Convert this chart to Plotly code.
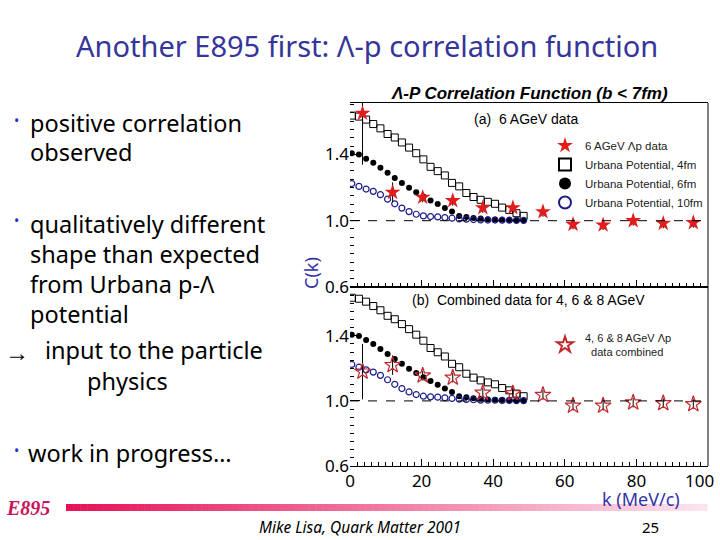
import plotly.graph_objects as go

# ---------------- data ----------------
k_data = [3.5, 11.9, 20.3, 28.7, 37.1, 45.5, 53.9, 62.3, 70.7, 79.1, 87.5, 95.9]
c_6agev = [1.648, 1.171, 1.141, 1.121, 1.078, 1.078, 1.054, 0.978, 0.974, 1.000, 0.984, 0.988]
err_6agev = [0.31, 0.06, 0.03, 0.03, 0.03, 0.03, 0.03, 0.03, 0.03, 0.03, 0.03, 0.03]
c_comb = [1.180, 1.220, 1.156, 1.143, 1.050, 1.047, 1.037, 0.971, 0.971, 0.990, 0.986, 0.980]
err_comb = [0.17, 0.06, 0.03, 0.03, 0.03, 0.03, 0.03, 0.03, 0.03, 0.03, 0.03, 0.03]

k_theory = [0.5, 2.5, 4.5, 6.5, 8.5, 10.5, 12.5, 14.5, 16.5, 18.5, 20.5, 22.5, 24.5,
            26.5, 28.5, 30.5, 32.5, 34.5, 36.5, 38.5, 40.5, 42.5, 44.5, 46.5, 48.5]
c_4fm = [1.634, 1.628, 1.610, 1.583, 1.557, 1.523, 1.502, 1.472, 1.441, 1.407, 1.370, 1.325, 1.299,
         1.273, 1.228, 1.207, 1.167, 1.143, 1.126, 1.114, 1.102, 1.079, 1.065, 1.045, 1.029]
c_6fm = [1.407, 1.399, 1.374, 1.350, 1.319, 1.289, 1.258, 1.228, 1.198, 1.171, 1.146, 1.122, 1.100,
         1.076, 1.055, 1.029, 1.023, 1.017, 1.013, 1.009, 1.007, 1.005, 1.004, 1.003, 1.003]
c_10fm = [1.224, 1.207, 1.191, 1.177, 1.157, 1.130, 1.102, 1.076, 1.055, 1.039, 1.029, 1.025, 1.023,
          1.019, 1.015, 1.011, 1.009, 1.007, 1.005, 1.004, 1.004, 1.003, 1.003, 1.002, 1.002]

x_ticks = [0, 20, 40, 60, 80, 100]
x_tick_labels = ["0", "20", "40", "60", "80", ""]
last_x_label = "100"
y_ticks = [0.6, 1.0, 1.4]
y_tick_labels = ["0.6", "1.0", "1.4"]

# ---------------- styling ----------------
W, H = 720, 540
SLIDE_FONT = "Noto Sans"
PLOT_FONT = "Liberation Sans"
TITLE_BLUE = "#35359a"
STAR_RED = "#e01c1c"
OPEN_STAR = "#c0282d"
DARK_BLUE = "#1c1c8a"


def px(x):
    return x / W


def py(y):
    return 1 - y / H


fig = go.Figure()

panels = [("x", "y"), ("x2", "y2")]
for i, (xa, ya) in enumerate(panels):
    top = i == 0
    fig.add_trace(go.Scatter(
        x=k_theory, y=c_4fm, mode="markers", xaxis=xa, yaxis=ya,
        name="Urbana Potential, 4fm", showlegend=top, legend="legend", legendrank=2,
        marker=dict(symbol="square-open", size=7, color="black", line=dict(width=1))))
    fig.add_trace(go.Scatter(
        x=k_theory, y=c_6fm, mode="markers", xaxis=xa, yaxis=ya,
        name="Urbana Potential, 6fm", showlegend=top, legend="legend", legendrank=3,
        marker=dict(symbol="circle", size=6, color="black")))
    fig.add_trace(go.Scatter(
        x=k_theory, y=c_10fm, mode="markers", xaxis=xa, yaxis=ya,
        name="Urbana Potential, 10fm", showlegend=top, legend="legend", legendrank=4,
        marker=dict(symbol="circle-open", size=6, color=DARK_BLUE, line=dict(width=1.2))))

fig.add_trace(go.Scatter(
    x=k_data, y=c_6agev, mode="markers", xaxis="x", yaxis="y",
    name="6 AGeV Λp data", legend="legend", legendrank=1,
    error_y=dict(type="data", array=err_6agev, color="black", thickness=1, width=0),
    marker=dict(symbol="star", size=12, color=STAR_RED, line=dict(width=0))))
fig.add_trace(go.Scatter(
    x=k_data, y=c_comb, mode="markers", xaxis="x2", yaxis="y2",
    name="4, 6 &amp; 8 AGeV Λp<br>\u00a0\u00a0data combined", legend="legend2",
    error_y=dict(type="data", array=err_comb, color="black", thickness=1, width=0),
    marker=dict(symbol="star-open", size=12, color=OPEN_STAR, line=dict(width=1.2))))

x_dom = [px(350), px(708)]
top_dom = [py(287), py(103)]
bot_dom = [py(466), py(287)]

common_x = dict(range=[0, 100], domain=x_dom, showgrid=False, zeroline=False,
                showline=True, linecolor="black", linewidth=1, mirror=True,
                ticks="inside", ticklen=7, tickcolor="black",
                tickvals=x_ticks, ticktext=x_tick_labels, automargin=False,
                minor=dict(ticks="inside", ticklen=4, dtick=2, tickcolor="black", showgrid=False),
                tickfont=dict(family=SLIDE_FONT, size=17, color="black"))
common_y = dict(showgrid=False, zeroline=False, showline=False,
                ticks="inside", ticklen=10, tickcolor="black",
                tickvals=y_ticks, ticktext=y_tick_labels, automargin=False,
                minor=dict(ticks="inside", ticklen=4, dtick=0.05, tickcolor="black", showgrid=False),
                tickfont=dict(family=SLIDE_FONT, size=17, color="black"))

fig.update_layout(
    width=W, height=H, margin=dict(l=0, r=0, t=0, b=0, pad=0, autoexpand=False),
    paper_bgcolor="white", plot_bgcolor="white",
    xaxis=dict(common_x, anchor="y", showticklabels=False),
    yaxis=dict(common_y, anchor="x", domain=top_dom, range=[0.6, 1.71]),
    xaxis2=dict(common_x, anchor="y2"),
    yaxis2=dict(common_y, anchor="x2", domain=bot_dom, range=[0.6, 1.70]),
    legend=dict(x=px(545), y=py(131), xanchor="left", yanchor="top",
                bgcolor="rgba(0,0,0,0)", itemsizing="constant",
                font=dict(family=PLOT_FONT, size=11.5, color="#222")),
    legend2=dict(x=px(545), y=py(324), xanchor="left", yanchor="top",
                 bgcolor="rgba(0,0,0,0)", itemsizing="constant",
                 font=dict(family=PLOT_FONT, size=11, color="#222")),
)

shapes = []
# dashed unity lines
for xr, yr in [("x domain", "y"), ("x2 domain", "y2")]:
    shapes.append(dict(type="line", xref=xr, yref=yr, x0=0, x1=1, y0=1, y1=1,
                       line=dict(color="black", width=1, dash="dash")))
# right frame edge
shapes.append(dict(type="line", xref="paper", yref="paper", x0=x_dom[1], x1=x_dom[1],
                   y0=bot_dom[0], y1=top_dom[1], line=dict(color="black", width=1)))
# gradient bar in the footer
n_seg = 90
x_start, x_end = 66, 707
c0, c1 = (230, 18, 88), (251, 228, 238)
for i in range(n_seg):
    t = i / (n_seg - 1)
    col = tuple(round(c0[j] + (c1[j] - c0[j]) * t) for j in range(3))
    xa0 = x_start + (x_end - x_start) * i / n_seg
    xa1 = x_start + (x_end - x_start) * (i + 1) / n_seg + 0.5
    shapes.append(dict(type="rect", xref="paper", yref="paper",
                       x0=px(xa0), x1=px(xa1), y0=py(511), y1=py(504),
                       line=dict(width=0), fillcolor="rgb(%d,%d,%d)" % col, layer="below"))
fig.update_layout(shapes=shapes)

ann = []


def add_text(text, x, y, size, color="black", family=SLIDE_FONT, xanchor="left", angle=0):
    ann.append(dict(text=text, x=px(x), y=py(y), xref="paper", yref="paper",
                    xanchor=xanchor, yanchor="middle", showarrow=False, textangle=angle,
                    font=dict(family=family, size=size, color=color)))


# slide title
add_text("Another E895 first: Λ-p correlation function", 367, 45, 29, TITLE_BLUE, xanchor="center")

# bullets
bullet_lines = [
    ("positive correlation", 28, 123, True),
    ("observed", 28, 152, False),
    ("qualitatively different", 28, 224, True),
    ("shape than expected", 28, 254, False),
    ("from Urbana p-Λ", 28, 284, False),
    ("potential", 28, 314, False),
    ("input to the particle", 43, 350, False),
    ("physics", 85, 381, False),
    ("work in progress…", 26, 453, True),
]
for txt, x, y, has_bullet in bullet_lines:
    add_text(txt, x, y, 23.5)
    if has_bullet:
        add_text("•", 12, y - 3, 14, "#2b2bd0")
add_text("→", 3, 351, 24)

# chart texts
add_text("<b><i>Λ-P Correlation Function (b &lt; 7fm)</i></b>", 529, 93, 17, "black", PLOT_FONT, "center")
add_text("(a)  6 AGeV data", 526, 119, 14, "black", PLOT_FONT, "center")
add_text("(b)  Combined data for 4, 6 &amp; 8 AGeV", 528, 300, 14, "black", PLOT_FONT, "center")
add_text("C(k)", 311, 273, 18, "#3333aa", angle=-90, xanchor="center")
add_text("k (MeV/c)", 641, 499, 18, "#3333aa", xanchor="center")

# footer
add_text("<b><i>E895</i></b>", 4, 508, 20, "#c8145a", "Liberation Serif")
add_text("<i>Mike Lisa, Quark Matter 2001</i>", 360, 527, 15.5, "black", xanchor="center")
add_text("25", 650, 527, 15, "black", xanchor="center")

# last x tick label placed on the axis scale, nudged left to stay inside the page
ann.append(dict(text=last_x_label, x=x_ticks[-1], y=0, xref="x2", yref="y2 domain",
                xanchor="right", yanchor="top", xshift=8, yshift=-1, showarrow=False,
                font=dict(family=SLIDE_FONT, size=17, color="black")))

fig.update_layout(annotations=ann)

fig.write_html("out.html", config={"displayModeBar": False},
               post_script="document.body.style.margin='0';")
